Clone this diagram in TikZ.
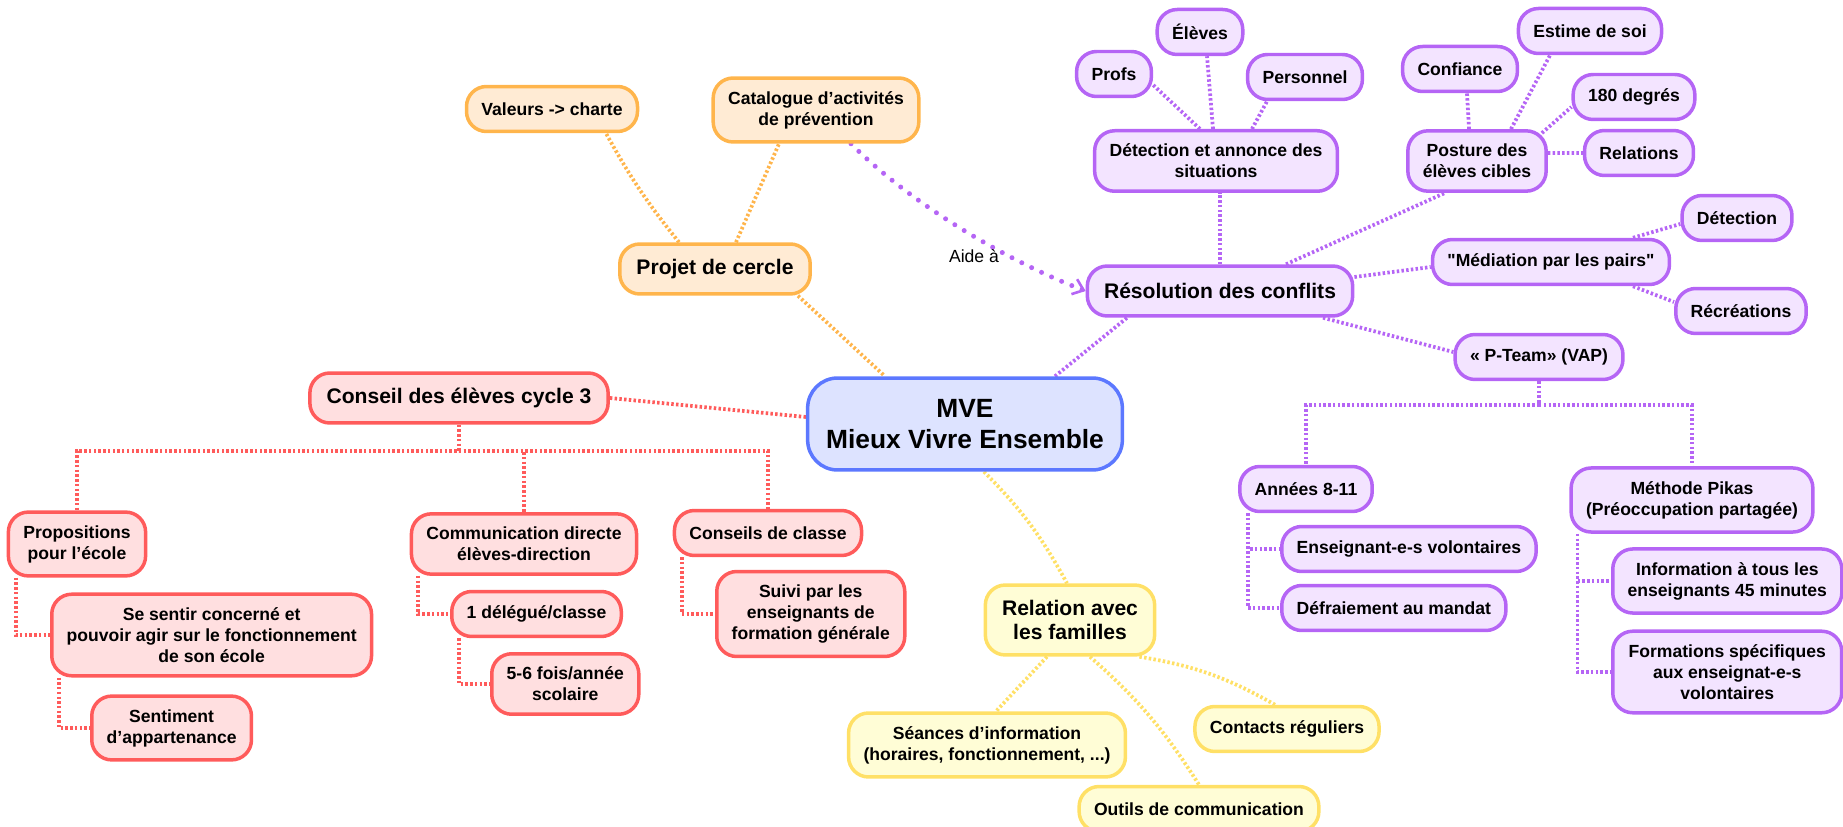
\documentclass[tikz,border=0pt]{standalone}
\usepackage{fontspec}
\setmainfont{Liberation Sans}[Ligatures=TeXOff]
\usetikzlibrary{arrows.meta,backgrounds}

\definecolor{mveline}{HTML}{5C78FF}
\definecolor{mvefill}{HTML}{DDE3FF}
\definecolor{orline}{HTML}{FFB54C}
\definecolor{orfill}{HTML}{FFEBD4}
\definecolor{yeline}{HTML}{FFE066}
\definecolor{yefill}{HTML}{FFFDD6}
\definecolor{puline}{HTML}{B565F5}
\definecolor{pufill}{HTML}{F3E4FF}
\definecolor{reline}{HTML}{FF5B5B}
\definecolor{refill}{HTML}{FFDFE0}

\begin{document}
\begin{tikzpicture}[
    x=0.02cm, y=-0.02cm,
    box/.style={
        draw, line width=0.07cm, rounded corners=0.4cm,
        align=center, inner xsep=8.5pt, inner ysep=7.5pt,
        minimum height=0.9cm,
        font=\bfseries\fontsize{10}{12}\selectfont
    },
    branch/.style={
        box, inner xsep=9.5pt, inner ysep=8.5pt, minimum height=1cm,
        font=\bfseries\fontsize{12}{14}\selectfont
    },
    orbox/.style={box, draw=orline, fill=orfill},
    orbranch/.style={branch, draw=orline, fill=orfill},
    pubox/.style={box, draw=puline, fill=pufill},
    pubranch/.style={branch, draw=puline, fill=pufill},
    rebox/.style={box, draw=reline, fill=refill},
    rebranch/.style={branch, draw=reline, fill=refill},
    yebox/.style={box, draw=yeline, fill=yefill},
    yebranch/.style={branch, draw=yeline, fill=yefill},
    mvebox/.style={
        box, draw=mveline, fill=mvefill, rounded corners=0.6cm,
        inner xsep=10.5pt, minimum height=1.84cm,
        font=\bfseries\fontsize{15}{18}\selectfont
    },
    link/.style={line width=0.075cm, dash pattern=on 1.4pt off 1.3pt},
    orlink/.style={link, draw=orline},
    pulink/.style={link, draw=puline},
    relink/.style={link, draw=reline},
    yelink/.style={link, draw=yeline},
    aidelink/.style={
        draw=puline, line width=0.1cm, line cap=round,
        dash pattern=on 0pt off 0.22cm,
        -{Straight Barb[length=0.2cm, width=0.32cm, line width=1.5pt]}
    }
]

\useasboundingbox (0,0) rectangle (1843,827);

% centre
\node[mvebox] (mve) at (965,424) {MVE\\Mieux Vivre Ensemble};

% projet de cercle
\node[orbox] (valeurs) at (552,109) {Valeurs -> charte};
\node[orbox] (catalogue) at (816,110) {Catalogue d’activités\\de prévention};
\node[orbranch] (projet) at (715,269) {Projet de cercle};

% resolution des conflits
\node[pubox] (eleves) at (1200,32) {Élèves};
\node[pubox] (profs) at (1114,74) {Profs};
\node[pubox] (personnel) at (1305,77) {Personnel};
\node[pubox] (annonce) at (1216,161) {Détection et annonce des\\situations};
\node[pubox] (confiance) at (1460,69) {Confiance};
\node[pubox] (estime) at (1590,31) {Estime de soi};
\node[pubox] (degres) at (1634,97) {180 degrés};
\node[pubox] (relations) at (1639,153) {Relations};
\node[pubox] (posture) at (1477,161) {Posture des\\élèves cibles};
\node[pubox] (detection) at (1737,218) {Détection};
\node[pubox] (mediation) at (1551,262) {"Médiation par les pairs"};
\node[pubox] (recreations) at (1741,311) {Récréations};
\node[pubranch] (resolution) at (1220,291) {Résolution des conflits};
\node[pubox] (pteam) at (1539,357) {« P-Team» (VAP)};
\node[pubox] (annees) at (1306,489) {Années 8-11};
\node[pubox, anchor=west] (volontaires) at (1280,549) {Enseignant-e-s volontaires};
\node[pubox, anchor=west] (defraiement) at (1280,608) {Défraiement au mandat};
\node[pubox] (pikas) at (1692,500) {Méthode Pikas\\(Préoccupation partagée)};
\node[pubox, anchor=west, minimum width=4.58cm] (information) at (1611,581) {Information à tous les\\enseignants 45 minutes};
\node[pubox, anchor=west, minimum width=4.58cm] (formations) at (1611,672) {Formations spécifiques\\aux enseignat-e-s\\volontaires};

\node[font=\fontsize{10}{12}\selectfont] (aide) at (974,256) {Aide à};

% conseil des eleves
\node[rebranch] (conseil) at (459,398) {Conseil des élèves cycle 3};
\node[rebox] (propositions) at (77,544) {Propositions\\pour l’école};
\node[rebox, anchor=west] (sentir) at (50,635) {Se sentir concerné et\\pouvoir agir sur le fonctionnement\\de son école};
\node[rebox, anchor=west] (appartenance) at (90,728) {Sentiment\\d’appartenance};
\node[rebox] (communication) at (524,544) {Communication directe\\élèves-direction};
\node[rebox, anchor=west] (delegue) at (450,614) {1 délégué/classe};
\node[rebox, anchor=west] (fois) at (490,684) {5-6 fois/année\\scolaire};
\node[rebox] (classe) at (768,533) {Conseils de classe};
\node[rebox, anchor=west] (suivi) at (715,614) {Suivi par les\\enseignants de\\formation générale};

% familles
\node[yebranch] (familles) at (1070,620) {Relation avec\\les familles};
\node[yebox] (seances) at (987,745) {Séances d’information\\(horaires, fonctionnement, ...)};
\node[yebox] (contacts) at (1287,729) {Contacts réguliers};
\node[yebox] (outils) at (1199,809) {Outils de communication};

% links
\begin{scope}[on background layer]
\draw[orlink] ([xshift=-0.28cm]projet.south east) -- ([xshift=-1.6cm]mve.north);
\draw[orlink] ([xshift=-0.72cm]projet.north) to[bend left=5] ([xshift=1.08cm]valeurs.south);
\draw[orlink] ([xshift=0.42cm]projet.north) -- ([xshift=-0.74cm]catalogue.south);

\draw[relink] (conseil.east) -- ([yshift=0.14cm]mve.west);
\draw[relink] (conseil.south) -- ++(0,26) -| (propositions.north);
\draw[relink] (conseil.south) ++(0,26) -| (communication.north);
\draw[relink] (conseil.south) ++(0,26) -| (classe.north);
\draw[relink] (propositions.south west) ++(9,0) |- (sentir.west);
\draw[relink] (sentir.south west) ++(9,0) |- (appartenance.west);
\draw[relink] (communication.south west) ++(8,0) |- (delegue.west);
\draw[relink] (delegue.south west) ++(9,0) |- (fois.west);
\draw[relink] (classe.south west) ++(9,0) |- (suivi.west);

\draw[pulink] ([xshift=1.8cm]mve.north) -- ([xshift=-1.86cm]resolution.south);
\draw[pulink] (resolution.north) -- (resolution.north |- annonce.south);
\draw[pulink] ([xshift=-0.32cm]annonce.north) -- ([yshift=-0.22cm]profs.east);
\draw[pulink] ([xshift=-0.06cm]annonce.north) -- ([xshift=0.14cm]eleves.south);
\draw[pulink] ([xshift=0.72cm]annonce.north) -- ([xshift=-0.76cm]personnel.south);
\draw[pulink] ([xshift=1.32cm]resolution.north) -- ([xshift=-0.64cm]posture.south);
\draw[pulink] ([xshift=-0.16cm]posture.north) -- ([xshift=0.14cm]confiance.south);
\draw[pulink] ([xshift=0.68cm]posture.north) -- ([xshift=-0.8cm]estime.south);
\draw[pulink] ([xshift=-0.12cm,yshift=-0.08cm]posture.north east) -- ([yshift=-0.2cm]degres.west);
\draw[pulink] ([yshift=0.16cm]posture.east) -- (relations.west);
\draw[pulink] ([yshift=0.28cm]resolution.east) -- ([yshift=-0.1cm]mediation.west);
\draw[pulink] ([xshift=1.64cm]mediation.north) -- ([yshift=-0.12cm]detection.west);
\draw[pulink] ([xshift=1.64cm]mediation.south) -- ([yshift=0.18cm]recreations.west);
\draw[pulink] ([xshift=2.06cm]resolution.south) -- ([yshift=0.1cm]pteam.west);
\draw[pulink] (pteam.south) -- ++(0,24) -| (annees.north);
\draw[pulink] (pteam.south) ++(0,24) -| (pikas.north);
\draw[pulink] (annees.south west) ++(10,0) |- (volontaires.west);
\draw[pulink] (annees.south west) ++(10,0) |- (defraiement.west);
\draw[pulink] (pikas.south west) ++(8,0) |- (information.west);
\draw[pulink] (pikas.south west) ++(8,0) |- (formations.west);
\draw[aidelink] ([xshift=0.7cm]catalogue.south) .. controls (911,204) and (1007,261) .. (resolution.west);

\draw[yelink] ([xshift=0.38cm]mve.south) to[bend left=8] ([xshift=-0.06cm]familles.north);
\draw[yelink] ([xshift=-0.46cm]familles.south) -- ([xshift=0.18cm]seances.north);
\draw[yelink] ([xshift=0.4cm]familles.south) to[bend left=8] (outils.north);
\draw[yelink] ([xshift=-0.34cm]familles.south east) to[bend left=10] ([xshift=-0.24cm]contacts.north);
\end{scope}

\end{tikzpicture}
\end{document}
